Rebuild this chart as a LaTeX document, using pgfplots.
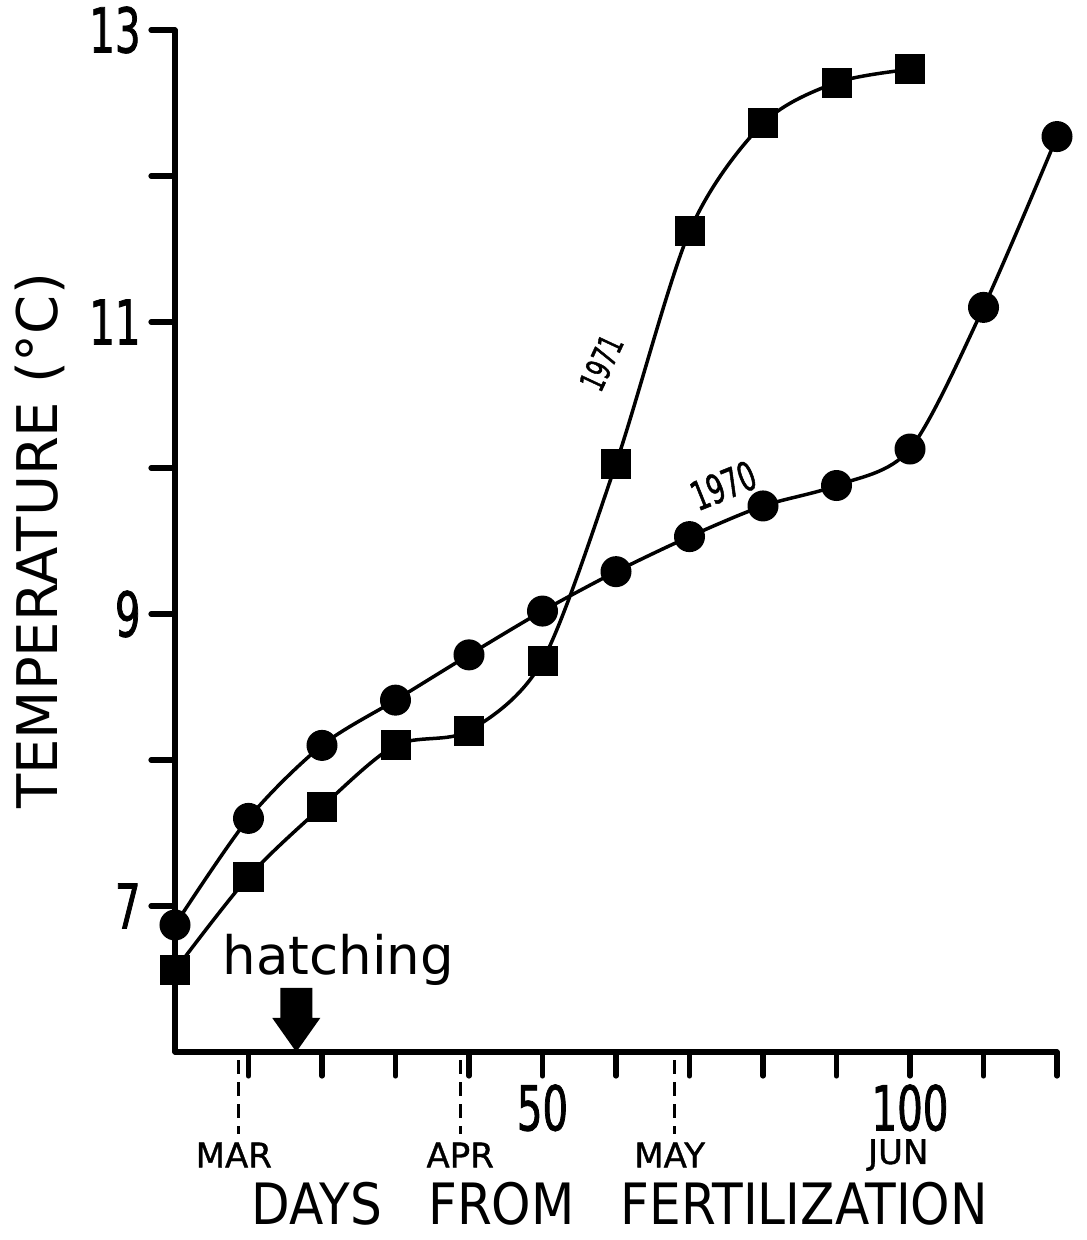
\documentclass[border=0pt]{standalone}
\usepackage{fontspec}
\setmainfont{DejaVu Sans}
\newfontfamily\numfont[FakeStretch=0.65, FakeBold=1.2]{DejaVu Sans}
\newfontfamily\condfont[FakeStretch=0.88]{DejaVu Sans}
\newfontfamily\monthfont[FakeBold=1]{DejaVu Sans}
\usepackage{pgfplots}
\pgfplotsset{compat=1.18}
\begin{document}
\begin{tikzpicture}
\begin{axis}[
  scale only axis, width=441pt, height=511pt,
  xmin=0, xmax=120, ymin=6, ymax=13,
  axis x line*=bottom, axis y line*=left,
  axis line style={line width=2.6pt, line cap=round, line join=round, -},
  tick align=outside,
  major tick length=12pt,
  tick style={black, line width=2.6pt, line cap=round},
  xtick={10,20,...,120},
  xticklabels={,,,,50,,,,,100,,},
  ytick={7,8,...,13},
  yticklabels={7,,9,,11,,13},
  minor tick num=0,
  /pgf/number format/assume math mode=true,
  ticklabel style={font=\numfont\fontsize{31}{31}\selectfont, inner sep=1pt},
  xticklabel style={yshift=-3pt},
  yticklabel style={xshift=-4pt},
  clip=false,
]
% 1970 (circles)
\addplot[black, line width=1.75pt, smooth, mark=*, mark size=7.25pt, mark options={line width=1pt, solid}]
  coordinates {(0,6.87) (10,7.60) (20,8.10) (30,8.41) (40,8.72) (50,9.02) (60,9.29) (70,9.53) (80,9.74) (90,9.88) (100,10.13) (110,11.10) (120,12.27)};
% 1971 (squares)
\addplot[black, line width=1.75pt, smooth, mark=square*, mark size=7pt, mark options={line width=1pt, solid, rounded corners=1.5pt}]
  coordinates {(0,6.56) (10,7.20) (20,7.68) (30,8.10) (40,8.20) (50,8.68) (60,10.03) (70,11.62) (80,12.36) (90,12.64) (100,12.73)};

\coordinate (O) at (axis cs:0,6);

\node[font=\numfont\fontsize{20}{20}\selectfont, rotate=22, inner sep=0pt] at (axis cs:74.6,9.88) {1970};
\node[font=\numfont\fontsize{17}{17}\selectfont, rotate=65, inner sep=0pt] at (axis cs:58.0,10.72) {1971};

\node[font=\fontsize{26.5}{26.5}\selectfont, anchor=base] at (axis cs:22.2,6.53) {hatching};
\fill[line join=round] (axis cs:16.5,6) -- ++(-12pt,17pt) -- ++(4pt,0pt) -- ++(0pt,15pt) -- ++(16pt,0pt) -- ++(0pt,-15pt) -- ++(4pt,0pt) -- cycle;

\draw[line width=1.6pt, dash pattern=on 7pt off 4pt] (axis cs:8.6,6) ++(0pt,-4pt) -- ++(0pt,-37pt);
\draw[line width=1.6pt, dash pattern=on 7pt off 4pt] (axis cs:38.8,6) ++(0pt,-4pt) -- ++(0pt,-37pt);
\draw[line width=1.6pt, dash pattern=on 7pt off 4pt] (axis cs:68.0,6) ++(0pt,-4pt) -- ++(0pt,-37pt);

\node[font=\monthfont\fontsize{17}{17}\selectfont, yshift=-51.5pt] at (axis cs:8.0,6) {MAR};
\node[font=\monthfont\fontsize{17}{17}\selectfont, yshift=-51.5pt] at (axis cs:38.8,6) {APR};
\node[font=\monthfont\fontsize{17}{17}\selectfont, yshift=-51.5pt] at (axis cs:67.3,6) {MAY};
\node[font=\monthfont\fontsize{17}{17}\selectfont, yshift=-51.5pt] at (axis cs:98.4,6) {JUN};

\node[font=\condfont\fontsize{28.5}{28.5}\selectfont, inner sep=0pt, yshift=-76pt] at (axis cs:60.5,6) {DAYS\hspace{23pt}FROM\hspace{23pt}FERTILIZATION};
\node[font=\fontsize{28}{28}\selectfont, rotate=90, yshift=67.5pt] at (axis cs:0,9.5) {TEMPERATURE (°C)};
\end{axis}
\pgfresetboundingbox
\path[use as bounding box] (O) ++(-87.5pt,-94pt) rectangle ++(543pt,620pt);
\end{tikzpicture}
\end{document}
